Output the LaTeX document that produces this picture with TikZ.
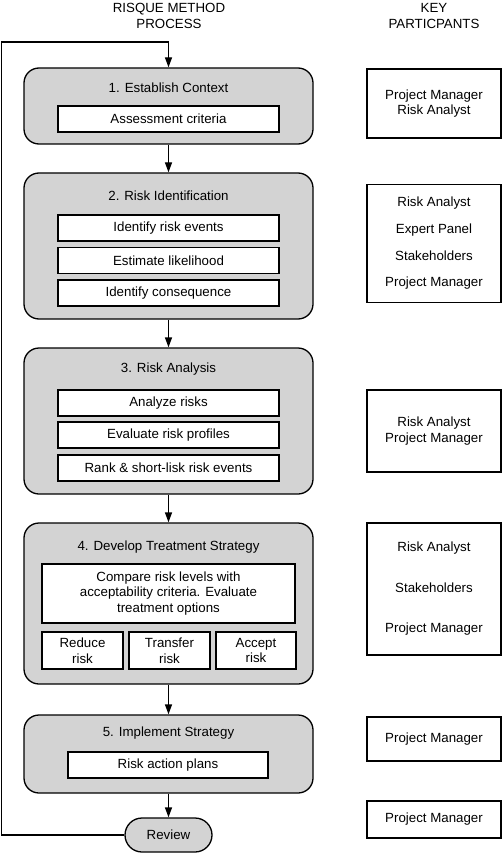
\documentclass[tikz,border=0pt]{standalone}
\usepackage{fontspec}
\setmainfont{Liberation Sans}
\usetikzlibrary{arrows.meta,positioning}
\definecolor{stagegray}{HTML}{D3D3D3}
\tikzset{
  stage/.style={draw=black, line width=1.3pt, fill=stagegray, rounded corners=15pt, minimum width=289pt, inner sep=0pt},
  inbox/.style={draw=black, line width=1.1pt, fill=white, inner sep=0pt, align=center},
  pbox/.style={draw=black, line width=1.1pt, fill=white, minimum width=134pt, inner sep=0pt, align=center},
  ttl/.style={inner sep=0pt, align=center},
  flow/.style={line width=1.3pt, -{Triangle[length=10pt,width=7pt]}},
  every node/.style={font=\fontsize{13.3}{15.5}\selectfont}
}
\begin{document}
\begin{tikzpicture}[x=1pt,y=-1pt]
\useasboundingbox (0,0) rectangle (502,853);
% headers
\node[ttl] (h1) at (169,16) {RISQUE METHOD\\PROCESS};
\node[ttl] (h2) at (434,16) {KEY\\PARTICPANTS};
% stages
\node[stage, minimum height=76pt] (s1) at (168.5,106) {};
\node[stage, minimum height=146pt] (s2) at (168.5,246) {};
\node[stage, minimum height=146pt] (s3) at (168.5,421) {};
\node[stage, minimum height=161pt] (s4) at (168.5,603.5) {};
\node[stage, minimum height=78pt] (s5) at (168.5,754) {};
\node[draw=black, line width=1.3pt, fill=stagegray, rounded corners=17pt, minimum width=87pt, minimum height=34pt, inner sep=0pt] (rev) at (168.5,835) {Review};
% titles
\node[ttl] (t1) at (168.5,87.5) {1. Establish Context};
\node[ttl] (t2) at (168.5,195.5) {2. Risk Identification};
\node[ttl] (t3) at (168.5,369.5) {3. Risk Analysis};
\node[ttl] (t4) at (168.5,547.5) {4. Develop Treatment Strategy};
\node[ttl] (t5) at (168.5,733.5) {5. Implement Strategy};
% inner boxes
\node[inbox, minimum width=221pt, minimum height=26pt] (i11) at (168.5,119) {Assessment criteria};
\node[inbox, minimum width=221pt, minimum height=26pt] (i21) at (168.5,228) {Identify risk events};
\node[inbox, minimum width=221pt, minimum height=26pt] (i22) at (168.5,260.5) {Estimate likelihood};
\node[inbox, minimum width=221pt, minimum height=26pt] (i23) at (168.5,293) {Identify consequence};
\node[inbox, minimum width=221pt, minimum height=26pt] (i31) at (168.5,403) {Analyze risks};
\node[inbox, minimum width=221pt, minimum height=26pt] (i32) at (168.5,435) {Evaluate risk profiles};
\node[inbox, minimum width=221pt, minimum height=26pt] (i33) at (168.5,468) {Rank \& short-lisk risk events};
\node[inbox, minimum width=253pt, minimum height=59pt] (i41) at (168.5,593.5) {Compare risk levels with\\acceptability criteria. Evaluate\\treatment options};
\node[inbox, minimum width=81pt, minimum height=37pt] (i42) at (82.5,650.5) {Reduce\\risk};
\node[inbox, minimum width=81pt, minimum height=37pt] (i43) at (169.5,650.5) {Transfer\\risk};
\node[inbox, minimum width=80pt, minimum height=37pt] (i44) at (256,650.5) {Accept\\risk};
\node[inbox, minimum width=200pt, minimum height=26pt] (i51) at (168,765) {Risk action plans};
% participants
\node[pbox, minimum height=69pt] (p1) at (434,103.5) {Project Manager\\Risk Analyst};
\node[pbox, minimum height=118pt, align=center] (p2) at (434,243.5) {Risk Analyst\\[11.2pt]Expert Panel\\[11.2pt]Stakeholders\\[11.2pt]Project Manager};
\node[pbox, minimum height=82pt] (p3) at (434,431) {Risk Analyst\\Project Manager};
\node[pbox, minimum height=132pt] (p4) at (434,589) {Risk Analyst\\[25pt]Stakeholders\\[25pt]Project Manager};
\node[pbox, minimum height=44pt] (p5) at (434,739) {Project Manager};
\node[pbox, minimum height=37pt] (p6) at (434,819.5) {Project Manager};
% flow arrows
\draw[flow] (s1.south) -- (s2.north);
\draw[flow] (s2.south) -- (s3.north);
\draw[flow] (s3.south) -- (s4.north);
\draw[flow] (s4.south) -- (s5.north);
\draw[flow] (s5.south) -- (rev.north);
% feedback loop
\coordinate (fbA) at (1.5,835);
\coordinate (fbB) at (1.5,42);
\draw[flow] (rev.west) -- (fbA) -- (fbB) -| (s1.north);
\end{tikzpicture}
\end{document}
